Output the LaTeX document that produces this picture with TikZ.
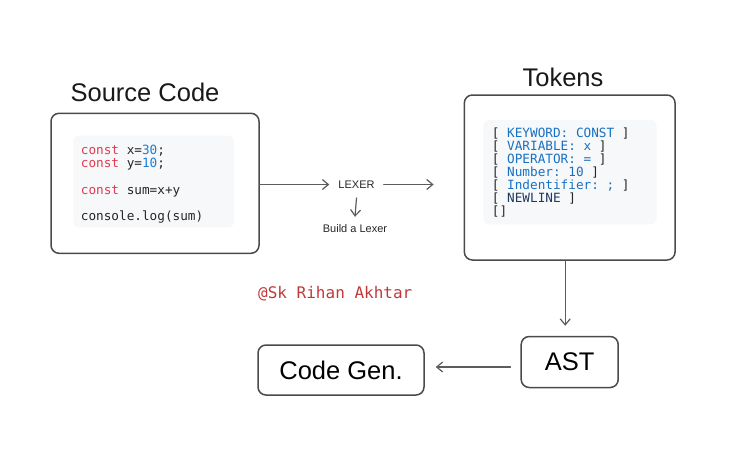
\documentclass[tikz,border=0pt]{standalone}
\usepackage{fontspec}
\setmainfont{Liberation Sans}
\setmonofont{DejaVu Sans Mono}
\usetikzlibrary{arrows.meta}
\definecolor{edge}{HTML}{4A4A4A}
\definecolor{panel}{HTML}{F7F8F9}
\definecolor{kwred}{HTML}{E03A52}
\definecolor{numblue}{HTML}{1C7ED6}
\definecolor{tokblue}{HTML}{1971C2}
\definecolor{tokdark}{HTML}{1E3A5F}
\definecolor{signred}{HTML}{C2383A}
\newcommand{\kw}[1]{\textcolor{kwred}{#1}}
\newcommand{\nm}[1]{\textcolor{numblue}{#1}}
\newcommand{\tk}[1]{\textcolor{tokblue}{#1}}
\begin{document}
\begin{tikzpicture}[x=1pt,y=-1pt, line join=round, line cap=round, >={Straight Barb[length=6pt,width=10pt]},
    box/.style={draw=edge,line width=1.5pt,rounded corners=8pt,fill=white},
    panelbox/.style={fill=panel,rounded corners=6pt,inner sep=0pt},
    arr/.style={->,draw=edge!90,line width=1.2pt},
    title/.style={font=\fontsize{25.5}{30}\selectfont,anchor=base,text=black!90},
    code/.style={font=\ttfamily\fontsize{12.7}{13.3}\selectfont,anchor=base west,inner sep=0pt,text=black!85},
    small/.style={font=\fontsize{11}{13}\selectfont,text=black!85}]
    \useasboundingbox (0,0) rectangle (730,458);
    % source code
    \node[title] (srctitle) at (145,101.7) {Source Code};
    \node[box,minimum width=208pt,minimum height=140pt] (src) at (155,183.3) {};
    \node[panelbox,minimum width=160.7pt,minimum height=91.6pt] (srcpanel) at (153.7,181.5) {};
    \foreach \ln/\yy [count=\i] in {{\kw{const} x=\nm{30};}/154, {\kw{const} y=\nm{10};}/167.3,
        {\kw{const} sum=x+y}/194, {console.log(sum)}/220.6}
        \node[code,name=cl\i] at (80.7,\yy) {\ln};
    % tokens
    \node[title] (toktitle) at (563,86) {Tokens};
    \node[box,minimum width=210.7pt,minimum height=165pt] (tok) at (569.7,177.5) {};
    \node[panelbox,minimum width=173.4pt,minimum height=104.3pt] (tokpanel) at (570,172.2) {};
    \foreach \ln [count=\i] in {{[ \tk{KEYWORD: CONST} ]}, {[ \tk{VARIABLE: x} ]}, {[ \tk{OPERATOR: =} ]},
        {[ \tk{Number: 10} ]}, {[ \tk{Indentifier: ;} ]}, {[ \textcolor{tokdark}{NEWLINE} ]}, {[]}}
        \node[code,name=tl\i] at (491.7,{137+13.15*(\i-1)}) {\ln};
    % lexer
    \node[small,inner xsep=9pt,inner ysep=9.5pt] (lexer) at (356.5,184.5) {LEXER};
    \node[small,inner sep=8pt] (build) at (355,229) {Build a Lexer};
    \draw[arr] (src.east |- lexer) -- (lexer.west);
    \draw[arr,shorten >=30pt] (lexer.east) -- (lexer.east -| tok.west);
    \draw[arr] (lexer.south) -- (build.north);
    % lower row
    \node[box,minimum width=97pt,minimum height=51pt,font=\fontsize{25.5}{30}\selectfont] (ast) at (569.7,362) {AST};
    \node[box,minimum width=166pt,minimum height=50pt,font=\fontsize{25.5}{30}\selectfont] (gen) at (341,370) {Code Gen.};
    \draw[arr,shorten >=10pt] ([xshift=-4.5pt]tok.south) -- ([xshift=-4.5pt]ast.north);
    \draw[arr,shorten <=10pt,shorten >=11pt] ([yshift=-5pt]ast.west) -- ([yshift=-5pt]ast.west -| gen.east);
    \node[code,font=\ttfamily\fontsize{16}{18}\selectfont,text=signred] (sign) at (258,298.3) {@Sk Rihan Akhtar};
\end{tikzpicture}
\end{document}
